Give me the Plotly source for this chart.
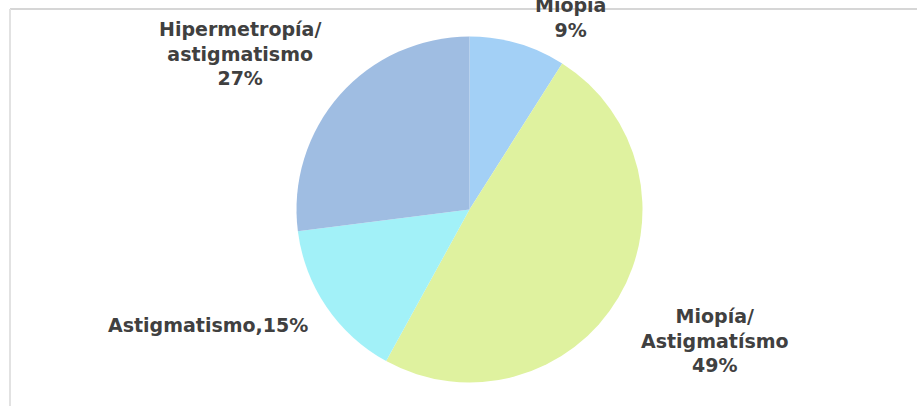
import plotly.graph_objects as go

categories = ["Miopía", "Miopía/Astigmatísmo", "Astigmatismo", "Hipermetropía/astigmatismo"]
values = [9, 49, 15, 27]
label_texts = ["Miopía<br>9%", "Miopía/<br>Astigmatísmo<br>49%", "Astigmatismo,15%", "Hipermetropía/<br>astigmatismo<br>27%"]
colors = ["#a3d0f6", "#dff29f", "#a2f1f8", "#9fbde2"]

W, H = 917, 406
cx, cy, r = 469.5, 209.5, 173

fig = go.Figure()
fig.add_trace(go.Pie(
    labels=categories, values=values, sort=False, direction="clockwise", rotation=0,
    marker=dict(colors=colors, line=dict(width=0)),
    textinfo="none", hoverinfo="label+percent", showlegend=False,
    domain=dict(x=[(cx - r) / W, (cx + r) / W], y=[(H - cy - r) / H, (H - cy + r) / H]),
))

label_pos = [(570, 17), (715, 340), (208, 325), (240, 54)]
for txt, (px, py) in zip(label_texts, label_pos):
    fig.add_annotation(x=px / W, y=1 - py / H, xref="paper", yref="paper", text=txt,
                       showarrow=False, xanchor="center", yanchor="middle",
                       font=dict(family="DejaVu Sans", size=19, color="#404040", weight="bold"))

# frame lines
fig.add_shape(type="line", xref="paper", yref="paper", x0=10 / W, x1=1, y0=1 - 9 / H, y1=1 - 9 / H,
              line=dict(color="#d6d6d6", width=2), layer="above")
fig.add_shape(type="line", xref="paper", yref="paper", x0=10 / W, x1=10 / W, y0=0, y1=1 - 9 / H,
              line=dict(color="#e2e2e2", width=2), layer="above")

fig.update_layout(width=W, height=H, margin=dict(l=0, r=0, t=0, b=0),
                  paper_bgcolor="white", plot_bgcolor="white")
fig.write_html("out.html", config={"displayModeBar": False},
               post_script="document.body.style.margin='0';document.body.style.overflow='hidden';")
